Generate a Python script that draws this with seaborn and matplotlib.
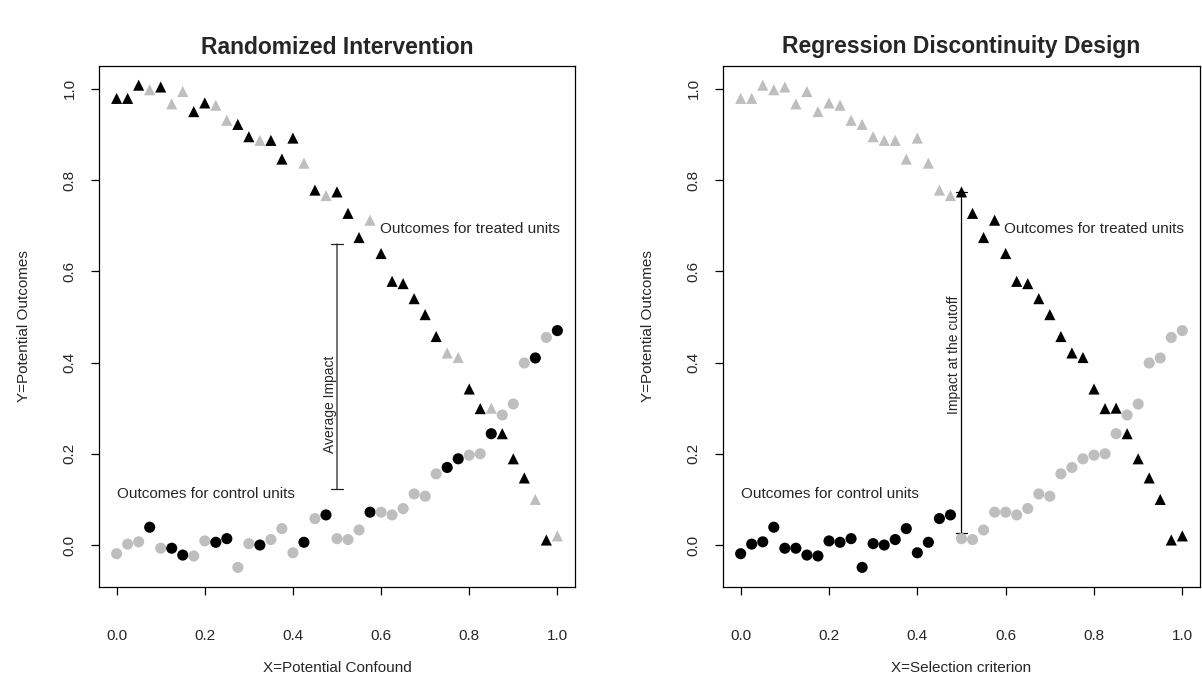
import numpy as np
import pandas as pd
import matplotlib
matplotlib.use("Agg")
import matplotlib.pyplot as plt
import seaborn as sns

# ---------------- data ----------------
x_vals = [0.000, 0.025, 0.050, 0.075, 0.100, 0.125, 0.150, 0.175, 0.200, 0.225,
          0.250, 0.275, 0.300, 0.325, 0.350, 0.375, 0.400, 0.425, 0.450, 0.475,
          0.500, 0.525, 0.550, 0.575, 0.600, 0.625, 0.650, 0.675, 0.700, 0.725,
          0.750, 0.775, 0.800, 0.825, 0.850, 0.875, 0.900, 0.925, 0.950, 0.975,
          1.000]

y_treated = [0.979, 0.979, 1.008, 0.998, 1.004, 0.967, 0.994, 0.950, 0.969, 0.964,
             0.931, 0.922, 0.895, 0.887, 0.887, 0.846, 0.892, 0.837, 0.778, 0.766,
             0.774, 0.727, 0.674, 0.712, 0.639, 0.578, 0.573, 0.540, 0.505, 0.457,
             0.421, 0.411, 0.342, 0.299, 0.300, 0.244, 0.189, 0.147, 0.100, 0.011,
             0.020]

y_control = [-0.019, 0.002, 0.007, 0.039, -0.007, -0.007, -0.022, -0.024, 0.009, 0.006,
             0.014, -0.049, 0.003, 0.000, 0.012, 0.036, -0.017, 0.006, 0.058, 0.066,
             0.014, 0.012, 0.033, 0.072, 0.072, 0.066, 0.080, 0.112, 0.107, 0.156,
             0.170, 0.189, 0.197, 0.200, 0.244, 0.285, 0.309, 0.399, 0.410, 0.455,
             0.470]

# random assignment in the left panel (1 = treated)
assigned = [1, 1, 1, 0, 1, 0, 0, 1, 1, 0,
            0, 1, 1, 0, 1, 1, 1, 0, 1, 0,
            1, 1, 1, 0, 1, 1, 1, 1, 1, 1,
            0, 0, 1, 1, 0, 1, 1, 1, 0, 1,
            0]

cutoff = 0.5
titles = ["Randomized Intervention", "Regression Discontinuity Design"]
xlabels = ["X=Potential Confound", "X=Selection criterion"]
ylabel = "Y=Potential Outcomes"
ticks = [0.0, 0.2, 0.4, 0.6, 0.8, 1.0]
tick_labels = ["0.0", "0.2", "0.4", "0.6", "0.8", "1.0"]

# ---------------- style ----------------
sns.set_theme(style="white")
plt.rcParams["font.family"] = ["Liberation Sans", "DejaVu Sans"]

BLACK = "#000000"
GRAY = "#BEBEBE"

x = np.array(x_vals)
yt = np.array(y_treated)
yc = np.array(y_control)
a = np.array(assigned)

def make_df(treated_observed):
    # treated_observed: True if the treated outcome is the observed one
    df_t = pd.DataFrame({"x": x, "y": yt, "kind": "treated",
                         "col": np.where(treated_observed, "obs", "unobs")})
    df_c = pd.DataFrame({"x": x, "y": yc, "kind": "control",
                         "col": np.where(treated_observed, "unobs", "obs")})
    return pd.concat([df_t, df_c], ignore_index=True)

df_left = make_df(a == 1)
df_right = make_df(x >= cutoff)

fig = plt.figure(figsize=(12.02, 6.86), dpi=100)
W, H = 1202.0, 686.0
ax1 = fig.add_axes([99 / W, 1 - 587 / H, 476 / W, 521 / H])
ax2 = fig.add_axes([723 / W, 1 - 587 / H, 477 / W, 521 / H])

FS = 11
for ax, df, title, xl in [(ax1, df_left, titles[0], xlabels[0]),
                          (ax2, df_right, titles[1], xlabels[1])]:
    sns.scatterplot(data=df, x="x", y="y", hue="col", style="kind",
                    palette={"obs": BLACK, "unobs": GRAY},
                    markers={"treated": "^", "control": "o"},
                    s=64, linewidth=0, legend=False, ax=ax, zorder=3)
    ax.set_xlim(-0.04, 1.04)
    ax.set_ylim(-0.092, 1.050)
    ax.set_xticks(ticks)
    ax.set_xticklabels(tick_labels, fontsize=FS)
    ax.set_yticks(ticks)
    ax.set_yticklabels(tick_labels, fontsize=FS, rotation=90, va="center")
    ax.tick_params(axis="both", direction="out", length=6, width=0.9,
                   color="black", bottom=True, left=True)
    ax.tick_params(axis="x", pad=24)
    ax.tick_params(axis="y", pad=10)
    ax.set_xlabel(xl, fontsize=FS, labelpad=13)
    ax.set_ylabel(ylabel, fontsize=FS, labelpad=23)
    ax.set_title(title, fontsize=16.5, fontweight="bold", pad=9)
    for sp in ax.spines.values():
        sp.set_visible(True)
        sp.set_color("black")
        sp.set_linewidth(0.9)
    ax.text(0.597, 0.692, "Outcomes for treated units", fontsize=FS,
            ha="left", va="center")
    ax.text(0.0, 0.111, "Outcomes for control units", fontsize=FS,
            ha="left", va="center")

# annotations
ax1.annotate("", xy=(cutoff, 0.660), xytext=(cutoff, 0.122),
             arrowprops=dict(arrowstyle="|-|,widthA=0.35,widthB=0.35",
                             lw=0.9, color="#222222", shrinkA=0, shrinkB=0),
             zorder=2)
ax1.text(0.483, 0.308, "Average Impact", fontsize=FS - 1, rotation=90,
         ha="center", va="center")

ax2.annotate("", xy=(cutoff, 0.774), xytext=(cutoff, 0.027),
             arrowprops=dict(arrowstyle="|-|,widthA=0.35,widthB=0.35",
                             lw=0.9, color="black", shrinkA=0, shrinkB=0),
             zorder=2)
ax2.text(0.484, 0.417, "Impact at the cutoff", fontsize=FS - 1, rotation=90,
         ha="center", va="center")

fig.savefig("out.png", dpi=100)
